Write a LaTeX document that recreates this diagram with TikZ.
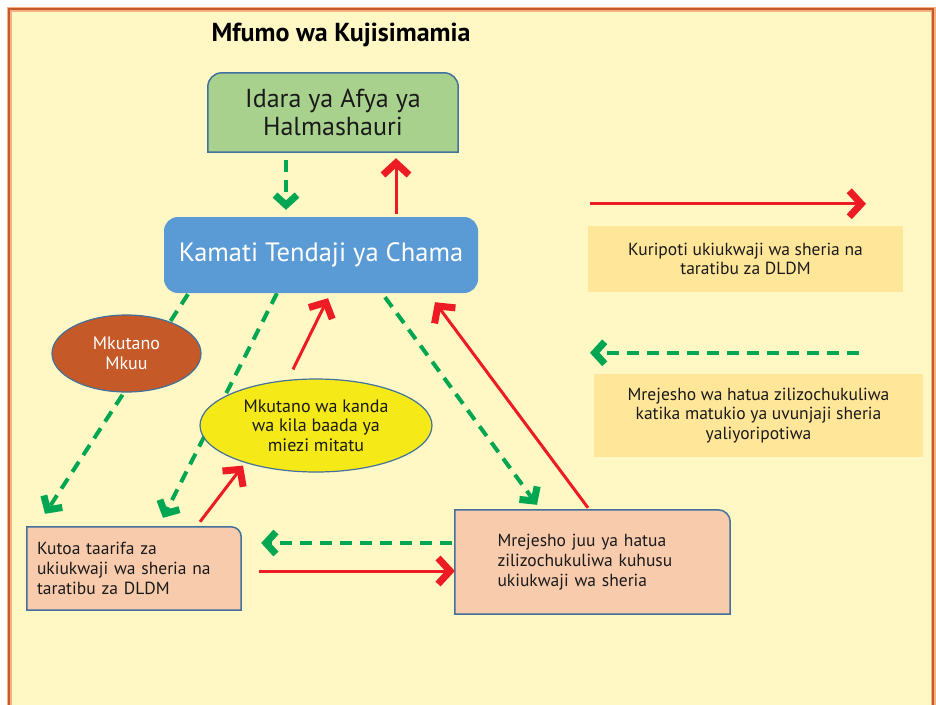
\documentclass[tikz,border=0pt]{standalone}
\usepackage{fontspec}
\setmainfont{PT Sans}
\usetikzlibrary{arrows.meta,backgrounds,shapes.geometric}

\definecolor{framefill}{HTML}{FFF8C4}
\definecolor{frameedge}{HTML}{C55A28}
\definecolor{frameglow}{HTML}{F4B183}
\definecolor{edgeblue}{HTML}{41719C}
\definecolor{idarafill}{HTML}{A9D18E}
\definecolor{kamatifill}{HTML}{5B9BD5}
\definecolor{mkuufill}{HTML}{C55A28}
\definecolor{kandafill}{HTML}{F5EA18}
\definecolor{pinkfill}{HTML}{F8CBAD}
\definecolor{legfill}{HTML}{FFE699}
\definecolor{arrowred}{HTML}{ED1C24}
\definecolor{arrowgreen}{HTML}{00A651}
\definecolor{inktext}{HTML}{1A1A1A}

\tikzset{
  boxedge/.style={draw=edgeblue, line width=1.5pt},
  redarrow/.style={draw=arrowred, line width=3pt,
    -{Straight Barb[length=12pt,width=26pt,line width=7pt]}},
  greenarrow/.style={draw=arrowgreen, line width=4pt, dash pattern=on 12pt off 8pt,
    -{Straight Barb[length=10pt,width=22pt,line width=7pt]}},
  oval/.style={ellipse, draw=edgeblue, line width=1.2pt, inner sep=0pt, align=center,
    font=\fontsize{18}{19.5}\selectfont},
  legbox/.style={fill=legfill, align=center, text=inktext, font=\fontsize{17.5}{19.5}\selectfont},
  pinkbox/.style={align=left, inner sep=0pt, text=inktext, font=\fontsize{17.5}{20}\selectfont}
}

\begin{document}
\begin{tikzpicture}[x=1pt,y=-1pt]
\useasboundingbox (0,0) rectangle (936,704);

\node[font=\bfseries\fontsize{26}{28}\selectfont, text=black] (title) at (341,35) {Mfumo wa Kujisimamia};

\node[minimum width=250pt, minimum height=79pt, align=center, text=inktext,
  font=\fontsize{26}{28}\selectfont] (idara) at (333,112.5) {Idara ya Afya ya\\Halmashauri};
\node[fill=kamatifill, rounded corners=14pt, minimum width=314pt, minimum height=76pt,
  text=white, font=\fontsize{26.5}{28}\selectfont] (kamati) at (321,255) {Kamati Tendaji ya Chama};

\node[oval, fill=mkuufill, minimum width=149pt, minimum height=77pt, text=white] (mkuu) at (126.5,353.5) {Mkutano\\Mkuu};
\node[oval, fill=kandafill, minimum width=232pt, minimum height=93pt, text=inktext] (kanda) at (316,425.5) {Mkutano wa kanda\\wa kila baada ya\\miezi mitatu};

\node[pinkbox, minimum width=214pt, minimum height=83pt, text width=194pt] (kutoa) at (134,568.5)
  {Kutoa taarifa za\\ukiukwaji wa sheria na\\taratibu za DLDM};
\node[pinkbox, minimum width=275pt, minimum height=104pt, text width=190pt] (mrejesho) at (592.5,562)
  {Mrejesho juu ya hatua\\zilizochukuliwa kuhusu\\ukiukwaji wa sheria};

\node[legbox, minimum width=315pt, minimum height=66pt] (leg1) at (745.5,259)
  {Kuripoti ukiukwaji wa sheria na\\taratibu za DLDM};
\node[legbox, minimum width=329pt, minimum height=83pt] (leg2) at (758.5,415.5)
  {Mrejesho wa hatua zilizochukuliwa\\katika matukio ya uvunjaji sheria\\yaliyoripotiwa};

\begin{scope}[on background layer]
  % frame
  \draw[frameglow, line width=5pt, fill=framefill] (9,9) rectangle (933,720);
  \draw[frameedge, line width=2pt] (9,9) rectangle (933,720);
  % boxes
  \draw[boxedge, fill=idarafill] (idara.south west) -- ([yshift=-14pt]idara.north west)
    arc[start angle=180, end angle=90, radius=14pt] -- ([xshift=-14pt]idara.north east)
    arc[start angle=90, end angle=0, radius=14pt] -- (idara.south east) -- cycle;
  \draw[boxedge, fill=pinkfill] (kutoa.south west) -- (kutoa.north west) -- ([xshift=-10pt]kutoa.north east)
    arc[start angle=90, end angle=0, radius=10pt] -- (kutoa.south east) -- cycle;
  \draw[boxedge, fill=pinkfill] (mrejesho.south west) -- (mrejesho.north west) -- ([xshift=-12pt]mrejesho.north east)
    arc[start angle=90, end angle=0, radius=12pt] -- (mrejesho.south east) -- cycle;
  % arrows
  \draw[greenarrow] ([shift={(-47pt,-8pt)}]idara.south) -- ([shift={(-35pt,7pt)}]kamati.north);
  \draw[redarrow] ([shift={(75pt,3pt)}]kamati.north) -- ([shift={(63pt,-6pt)}]idara.south);
  \draw[greenarrow] ([shift={(-133pt,-1pt)}]kamati.south) -- ([shift={(-89pt,13pt)}]kutoa.north);
  \draw[greenarrow] ([shift={(-44pt,0pt)}]kamati.south) -- ([shift={(29pt,9pt)}]kutoa.north);
  \draw[redarrow] ([shift={(66pt,5pt)}]kutoa.north) -- ([shift={(-73pt,7pt)}]kanda.south);
  \draw[redarrow] ([shift={(-23pt,9pt)}]kanda.north) -- ([shift={(7pt,-5pt)}]kamati.south);
  \draw[greenarrow] ([shift={(64pt,-4pt)}]kamati.south) -- ([shift={(-55.5pt,5pt)}]mrejesho.north);
  \draw[redarrow] ([shift={(-4.5pt,2pt)}]mrejesho.north) -- ([shift={(114pt,-9pt)}]kamati.south);
  \draw[greenarrow] ([shift={(-3pt,19pt)}]mrejesho.west) -- ([shift={(20pt,25.5pt)}]kutoa.east);
  \draw[redarrow] ([shift={(18pt,-2.5pt)}]kutoa.east) -- ([shift={(0pt,-9pt)}]mrejesho.west);
  % legend
  \draw[redarrow] ([shift={(-155.5pt,22pt)}]leg1.north) -- ([shift={(120.5pt,22pt)}]leg1.north);
  \draw[greenarrow] ([shift={(100.5pt,21pt)}]leg2.north) -- ([shift={(-168.5pt,21pt)}]leg2.north);
\end{scope}
\end{tikzpicture}
\end{document}
